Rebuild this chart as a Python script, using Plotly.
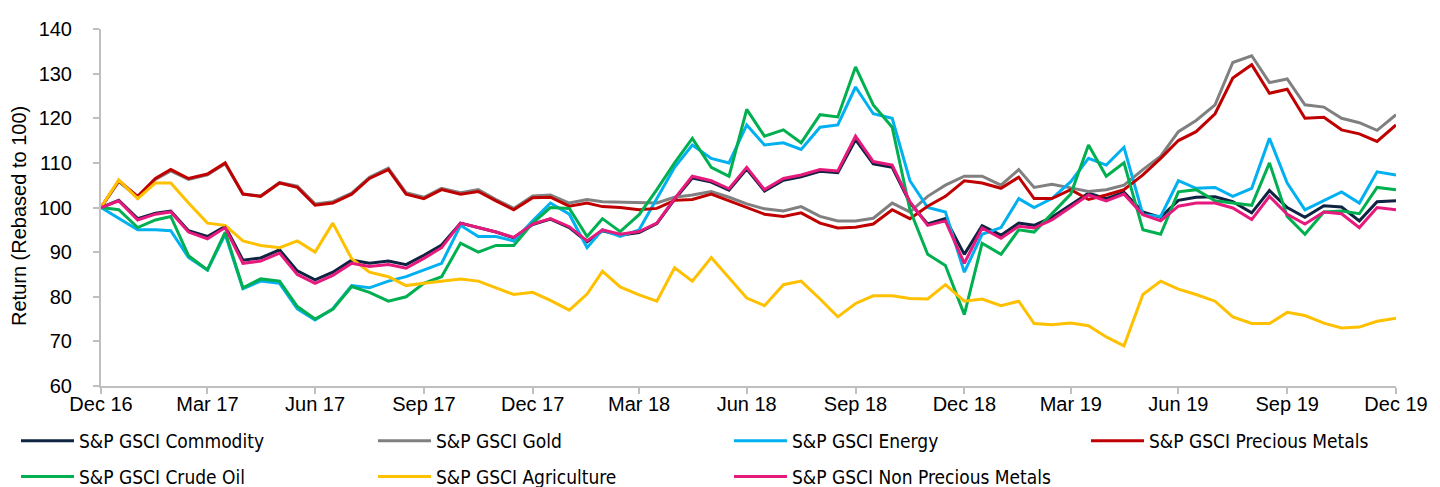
import datetime as dt
import calendar
import plotly.graph_objects as go

# ---- dates: semi-monthly observations, Dec 2016 - Dec 2019 ----
dates = [dt.date(2016, 12, 31)]
for yr in (2017, 2018, 2019):
    for mo in range(1, 13):
        dates.append(dt.date(yr, mo, 15))
        dates.append(dt.date(yr, mo, calendar.monthrange(yr, mo)[1]))

tick_dates = ["2016-12-31", "2017-03-31", "2017-06-30", "2017-09-30", "2017-12-31",
              "2018-03-31", "2018-06-30", "2018-09-30", "2018-12-31", "2019-03-31",
              "2019-06-30", "2019-09-30", "2019-12-31"]
tick_labels = ["Dec 16", "Mar 17", "Jun 17", "Sep 17", "Dec 17", "Mar 18", "Jun 18",
               "Sep 18", "Dec 18", "Mar 19", "Jun 19", "Sep 19", "Dec 19"]
y_ticks = [60, 70, 80, 90, 100, 110, 120, 130, 140]

commodity = [100, 101.6, 97.5, 98.7, 99.2, 94.8, 93.5, 95.8, 88.2, 88.7, 90.5, 85.8, 83.8, 85.5, 88.2, 87.5, 88, 87.2, 89.3, 91.6, 96.5, 95.5,
             94.5, 93.2, 96.2, 97.4, 95.5, 92.3, 94.8, 93.8, 94.4, 96.4, 101.8, 106.6, 105.7, 103.9, 108.6, 103.7, 106.1, 106.9, 108.1, 107.8, 115.2, 109.8, 109, 101, 96.3, 97.5,
             89.5, 95.9, 93.8, 96.5, 96, 97.8, 100.6, 103.2, 102, 103.4, 99, 97.8, 101.6, 102.3, 102.4, 101.3, 98.8, 103.8, 100, 97.8, 100.4, 100.1, 97, 101.3, 101.5]
gold = [100, 105.8, 102.3, 106.3, 108.2, 106.3, 107.3, 109.8, 103, 102.6, 105.6, 104.8, 100.8, 101.3, 103.2, 106.8, 108.8, 103.3, 102.3, 104.3, 103.3, 104,
        101.8, 99.8, 102.6, 102.8, 101, 101.8, 101.3, 101.2, 101, 101, 102.3, 102.8, 103.6, 102.3, 100.8, 99.7, 99.2, 100.2, 98, 97, 97, 97.6, 101, 99, 102.5, 105,
        107, 107, 105, 108.5, 104.5, 105.2, 104.4, 103.6, 104, 105, 108.5, 111.5, 117, 119.5, 123, 132.5, 134, 128, 128.8, 123, 122.5, 120, 119, 117.3, 120.8]
energy = [100, 97.5, 95, 95, 94.8, 88.8, 86, 94, 81.8, 83.5, 83, 77.3, 74.8, 77.3, 82.5, 82, 83.5, 84.5, 86, 87.5, 96, 93.5,
          93.5, 92.5, 97, 101, 98.5, 91, 95, 93.5, 95, 102, 109, 114, 111, 110, 118.5, 114, 114.5, 113, 118, 118.5, 127, 121, 120, 106, 100, 99,
          85.5, 94, 95.5, 102, 100, 102, 105.8, 111, 109.5, 113.5, 98.4, 98, 106, 104.3, 104.5, 102.5, 104.3, 115.5, 105.5, 99.5, 101.5, 103.5, 101, 108, 107.3]
precious = [100, 106, 102.5, 106.5, 108.5, 106.5, 107.5, 110, 103, 102.5, 105.5, 104.5, 100.5, 101, 103, 106.5, 108.5, 103, 102, 104, 103, 103.6,
            101.5, 99.5, 102.2, 102.3, 100.3, 101, 100.2, 100, 99.5, 99.8, 101.6, 101.8, 103, 101.5, 100, 98.5, 98, 98.8, 96.5, 95.4, 95.6, 96.3, 99.5, 97.5, 100.3, 102.5,
            106, 105.5, 104.3, 106.8, 102, 102, 104, 101.8, 102.8, 104, 107.3, 111, 115, 117, 121, 129, 132, 125.6, 126.5, 120, 120.2, 117.4, 116.5, 114.8, 118.5]
crude = [100, 99.5, 95.5, 97.2, 98, 89.2, 86, 94.5, 82, 84, 83.5, 77.8, 75, 77.2, 82.3, 81, 79, 80, 83, 84.5, 92, 90,
         91.5, 91.5, 96.5, 100, 99.8, 93.5, 97.5, 94.6, 98.4, 104, 110, 115.5, 109, 107, 122, 116, 117.4, 114.5, 120.8, 120.3, 131.5, 123, 118, 99.5, 89.5, 87,
         76, 92, 89.5, 95, 94.5, 98.5, 103, 114, 107, 110, 95, 94, 103.5, 104, 101.5, 101, 100.5, 110, 98, 94, 99, 99.2, 98.6, 104.5, 104]
agriculture = [100, 106.2, 102, 105.5, 105.5, 101, 96.5, 96, 92.5, 91.5, 91, 92.5, 90, 96.5, 88.5, 85.5, 84.5, 82.5, 83, 83.5, 84, 83.5,
               82, 80.5, 81, 79.2, 77, 80.6, 85.7, 82.2, 80.4, 79, 86.5, 83.5, 88.8, 84.2, 79.7, 78, 82.7, 83.5, 79.5, 75.5, 78.5, 80.2, 80.2, 79.6, 79.5, 82.7,
               79, 79.5, 78, 79, 74, 73.7, 74.1, 73.5, 71, 69, 80.5, 83.5, 81.7, 80.5, 79, 75.5, 74, 74, 76.5, 75.8, 74.1, 73, 73.2, 74.5, 75.2]
non_precious = [100, 101.5, 97.2, 98.5, 99, 94.5, 93, 95.5, 87.5, 88, 89.8, 85, 83, 84.8, 87.5, 86.8, 87.2, 86.4, 88.6, 91, 96.5, 95.5,
                94.5, 93.3, 96.3, 97.5, 95.7, 92.5, 95, 94, 94.6, 96.5, 102, 107, 106, 104.2, 109, 104, 106.5, 107.3, 108.5, 108.2, 116, 110.3, 109.5, 101.3, 96, 97,
                87.5, 95.4, 93.1, 95.8, 95.4, 97.2, 100, 102.8, 101.5, 103, 98.4, 97, 100.3, 101, 101, 99.9, 97.3, 102.5, 98.5, 96.3, 99, 98.6, 95.5, 100, 99.5]

series = [
    ("S&P GSCI Commodity", commodity, "#0f2342", "legend"),
    ("S&P GSCI Gold", gold, "#808080", "legend2"),
    ("S&P GSCI Energy", energy, "#00b0f0", "legend3"),
    ("S&P GSCI Precious Metals", precious, "#c00000", "legend4"),
    ("S&P GSCI Crude Oil", crude, "#00b050", "legend"),
    ("S&P GSCI Agriculture", agriculture, "#ffc000", "legend2"),
    ("S&P GSCI Non Precious Metals", non_precious, "#e6197c", "legend3"),
]

fig = go.Figure()
for name, vals, color, lg in series:
    fig.add_trace(go.Scatter(x=dates, y=vals, name=name, mode="lines",
                             line=dict(color=color, width=3),
                             legend=lg, legendgroup=name))

axis_col = "#bfbfbf"
tick_font = dict(family="Liberation Sans, Arial, sans-serif", size=20, color="#000000")
legend_font = dict(family="DejaVu Sans Condensed, sans-serif", size=19, color="#000000")

def leg(xpx):
    return dict(xref="container", yref="container", x=xpx / 1440, y=1 - 414 / 487,
                xanchor="left", yanchor="top", orientation="v", font=legend_font,
                bgcolor="rgba(0,0,0,0)", tracegroupgap=8, itemwidth=53)

fig.update_layout(
    width=1440, height=487,
    margin=dict(l=93, r=52, t=21, b=109, autoexpand=False),
    paper_bgcolor="white", plot_bgcolor="white",
    showlegend=True,
    legend=leg(8), legend2=leg(365), legend3=leg(721), legend4=leg(1078),
    xaxis=dict(type="date", range=["2016-12-31", "2019-12-31"],
               tickvals=tick_dates, ticktext=tick_labels,
               showline=True, linecolor=axis_col, linewidth=2,
               ticks="outside", ticklen=6, tickcolor=axis_col, tickwidth=2,
               showgrid=False, zeroline=False, tickfont=tick_font,
               ticklabelstandoff=-7),
    yaxis=dict(range=[60, 140], tickvals=y_ticks,
               showline=True, linecolor=axis_col, linewidth=2,
               ticks="outside", ticklen=6, tickcolor=axis_col, tickwidth=2,
               showgrid=False, zeroline=False, tickfont=tick_font,
               ticklabelstandoff=17),
    annotations=[dict(text="Return (Rebased to 100)", xref="paper", yref="paper",
                      x=-0.0634, y=0.476, textangle=-90, showarrow=False,
                      xanchor="center", yanchor="middle", font=tick_font)],
)

fig.write_html("out.html")
